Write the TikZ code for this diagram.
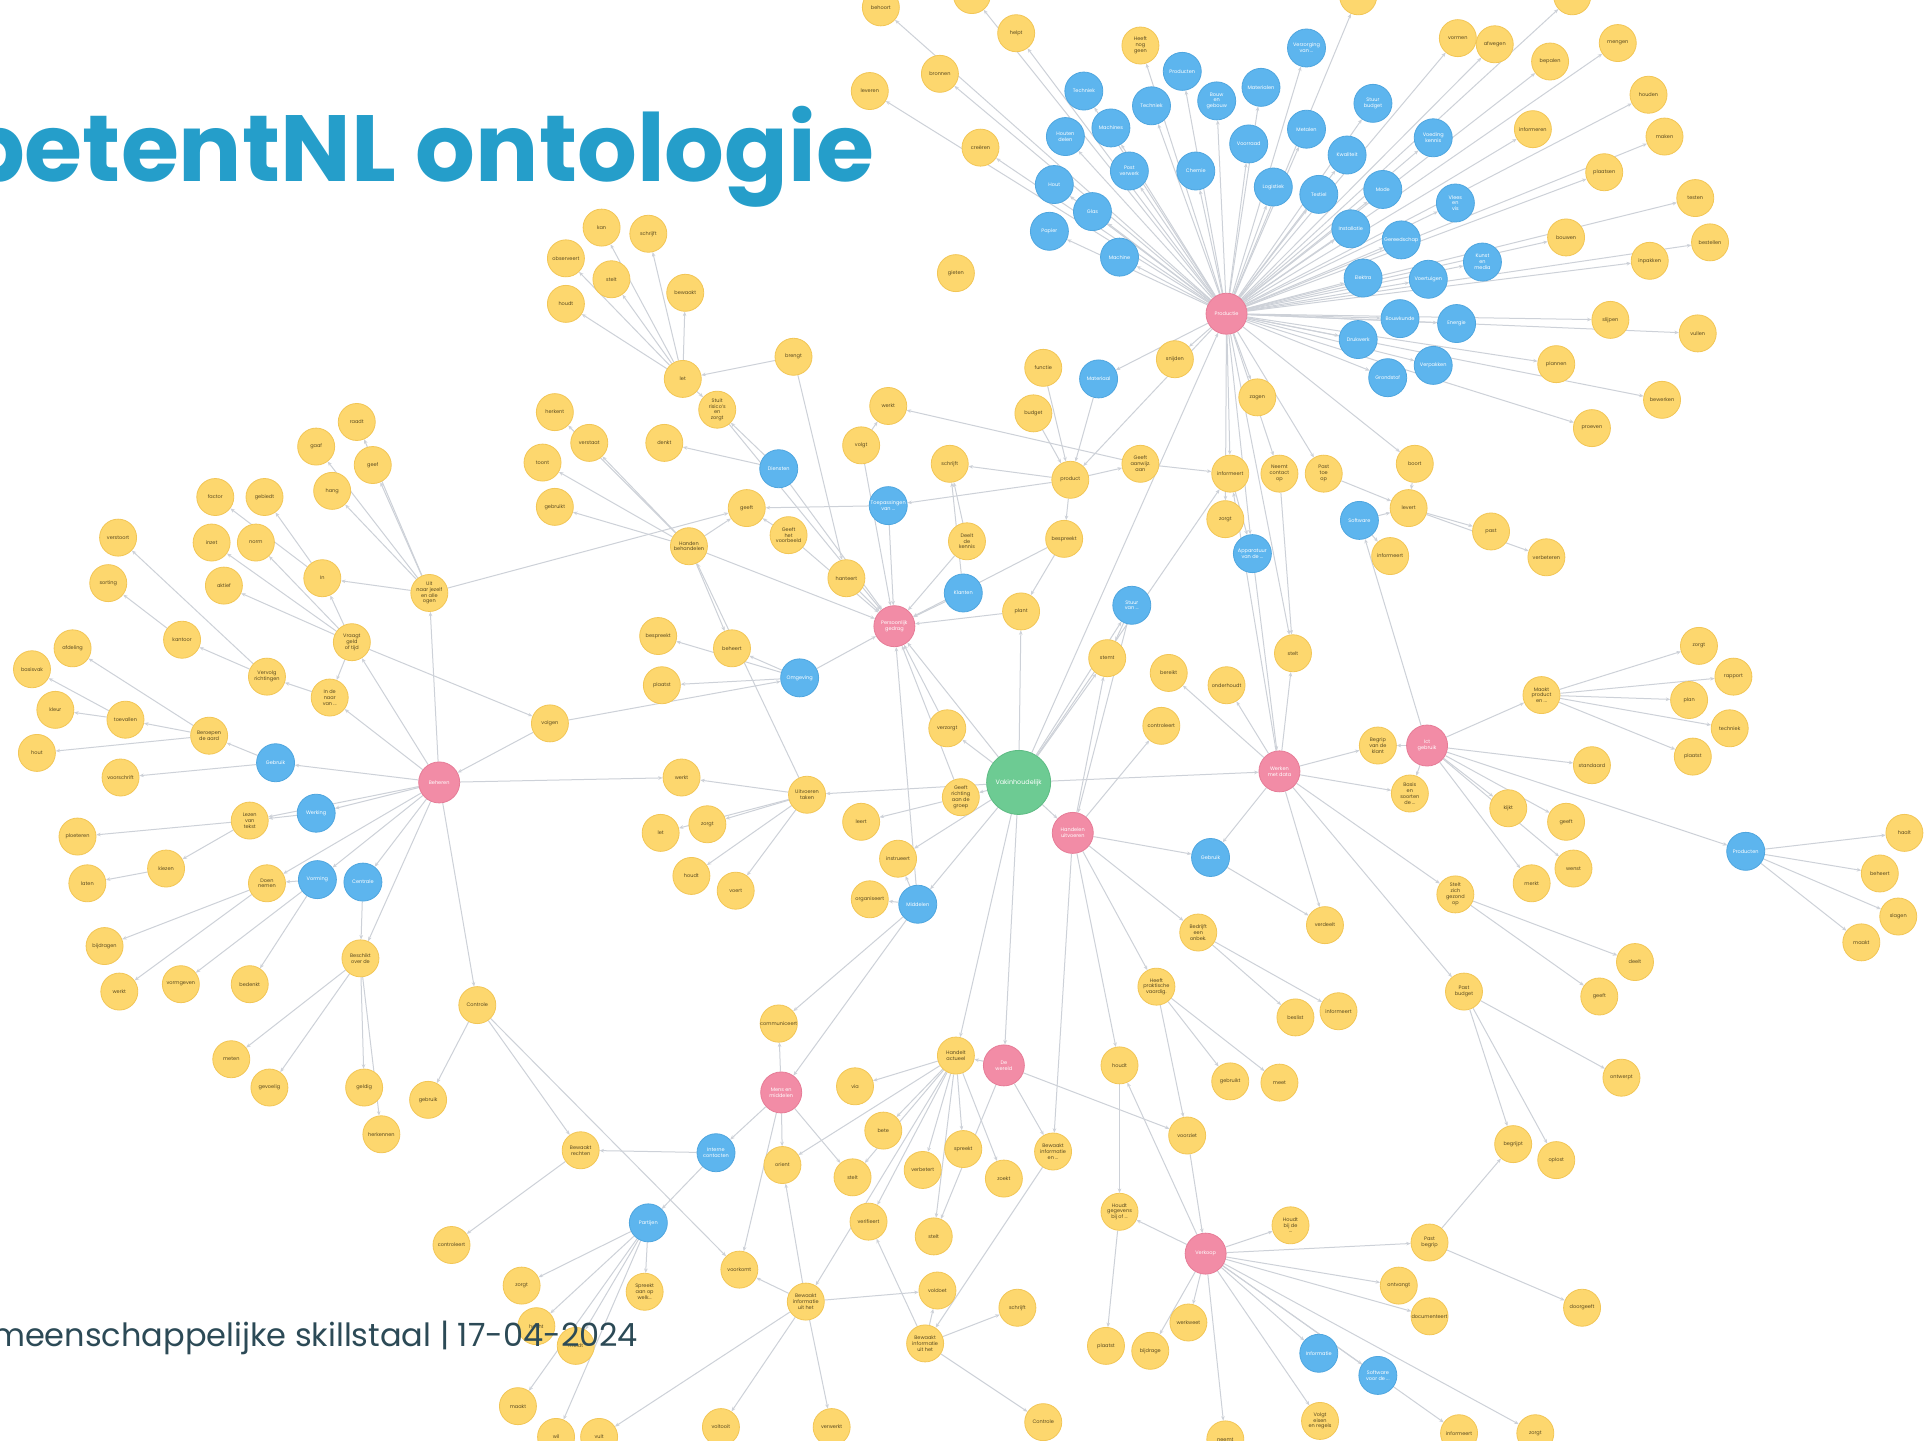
\documentclass[tikz,border=0pt]{standalone}
\usepackage{fontspec}
\setmainfont{Poppins}
\usetikzlibrary{arrows.meta,backgrounds}
\definecolor{ylw}{HTML}{FDD76E}
\definecolor{ylwd}{HTML}{F2C656}
\definecolor{blu}{HTML}{5DB5EE}
\definecolor{blud}{HTML}{4FA6DF}
\definecolor{pnk}{HTML}{F28CA6}
\definecolor{pnkd}{HTML}{E67C97}
\definecolor{grn}{HTML}{6DCB93}
\definecolor{grnd}{HTML}{5DBB83}
\definecolor{edg}{HTML}{CDD1D8}
\definecolor{txtd}{HTML}{5A4A20}
\definecolor{ttl}{HTML}{259ECA}
\definecolor{ftr}{HTML}{2C4A56}
\begin{document}
\begin{tikzpicture}[x=0.6151pt,y=-0.6151pt,
  nd/.style={circle,inner sep=0pt,align=center,font=\fontsize{2.5}{2.9}\selectfont},
  yl/.style={nd,fill=ylw,draw=ylwd,line width=0.4pt,minimum size=18.5pt,text=txtd},
  bl/.style={nd,fill=blu,draw=blud,line width=0.4pt,minimum size=19pt,text=white},
  pk/.style={nd,fill=pnk,draw=pnkd,line width=0.4pt,minimum size=20.5pt,text=white},
  gr/.style={nd,fill=grn,draw=grnd,line width=0.4pt,minimum size=32pt,text=white,font=\fontsize{3.2}{3.6}\selectfont},
  ed/.style={draw=edg,line width=0.5pt,-{Stealth[length=2.2pt,width=1.8pt]}},
  title/.style={font=\fontsize{47}{50}\selectfont\bfseries,text=ttl,inner sep=0pt,anchor=base east},
  footer/.style={font=\fontsize{16}{18}\selectfont,text=ftr,inner sep=0pt,anchor=base east}]
\useasboundingbox (0,0) rectangle (1568,1171);

% ---------- hubs ----------
\node[gr] (g0) at (828,636) {Vakinhoudelijk};
\node[pk] (p1) at (997,255) {Productie};
\node[pk] (p2) at (727,509) {Persoonlijk\\gedrag};
\node[pk] (p3) at (357,636) {Beheren};
\node[pk] (p4) at (872,677) {Handelen\\uitvoeren};
\node[pk] (p5) at (1040,627) {Werken\\met data};
\node[pk] (p6) at (1160,606) {Ict\\gebruik};
\node[pk] (p7) at (635,888) {Mens en\\middelen};
\node[pk] (p8) at (816,866) {De\\wereld};
\node[pk] (p9) at (980,1019) {Verkoop};

% ---------- blue nodes ----------
\foreach \n/\x/\y/\t in {
 tb1/881/74/Techniek, tb2/903/104/Machines, tb3/866/111/{Houten\\delen}, tb4/936/86/Techniek,
 tb5/961/58/Producten, tb6/989/82/{Bouw\\en\\gebouw}, tb7/1025/71/Materialen, tb8/1062/39/{Verzorging\\van ...},
 tb9/1062/105/Metalen, tb10/1116/84/{Stuur\\budget}, tb11/1165/112/{Voeding\\kennis}, tb12/1095/126/Kwaliteit,
 tb13/1015/117/Voorraad, tb14/918/139/{Post\\verwerk}, tb15/972/139/Chemie, tb16/1035/152/Logistiek,
 tb17/1124/154/Mode, tb18/1183/165/{Vlees\\en\\vis}, tb19/1072/158/Textiel, tb20/857/150/Hout,
 tb21/888/172/Glas, tb22/853/188/Papier, tb23/910/209/Machine, tb24/1098/186/Installatie,
 tb25/1139/195/Gereedschap, tb26/1205/213/{Kunst\\en\\media}, tb27/1108/226/Elektra, tb28/1161/227/Voertuigen,
 tb29/1138/259/Bouwkunde, tb30/1184/263/Energie, tb31/1104/276/Drukwerk, tb32/1165/297/Verpakken,
 tb33/1128/307/Grondstof, m1/893/308/Materiaal, m11/1105/423/Software, m16/1018/450/{Apparatuur\\van de ...},
 m18/920/492/{Stuur\\van ...}, m26/783/482/Klanten, m31/722/411/{Toepassingen\\van ...}, m35/633/381/Diensten,
 m37/746/735/Middelen, m48/650/551/Omgeving, lb1/224/620/Gebruik, lb2/257/661/Werking,
 lb3/258/715/Vorming, lb4/295/717/Centrale, rb1/1419/692/Producten, rb2/984/697/Gebruik,
 bbl1/582/937/{Interne\\contacten}, bbl2/527/994/Partijen, bbl3/1072/1100/Informatie, bbl4/1120/1118/{Software\\voor de ...}}
 \node[bl] (\n) at (\x,\y) {\t};

% ---------- yellow nodes ----------
\foreach \n/\x/\y/\t in {
 ty1/716/6/behoort, ty2/790/-4/meten, ty3/826/27/helpt, ty4/764/60/bronnen, ty5/707/74/leveren,
 ty6/797/120/creëren, ty7/927/37/{Heeft\\nog\\geen}, ty8/1104/-3/sorteren, ty29/1278/-3/lassen,
 ty9/1185/31/vormen, ty10/1215/36/afwegen, ty11/1260/50/bepalen, ty12/1315/35/mengen,
 ty13/1340/77/houden, ty14/1246/105/informeren, ty15/1353/111/maken, ty16/1304/140/plaatsen,
 ty17/1378/161/testen, ty18/1273/193/bouwen, ty19/1390/197/bestellen, ty20/1341/212/inpakken,
 ty21/1309/260/slijpen, ty22/1380/271/vullen, ty23/1265/296/plannen, ty24/1351/325/bewerken,
 ty25/1294/348/proeven, ty26/777/222/gieten, ty27/955/292/snijden, ty28/1022/323/zagen,
 m2/848/299/functie, m3/840/336/budget, m4/870/390/product, m5/927/377/{Geeft\\aanwijz.\\aan},
 m6/1000/385/informeert, m7/1040/385/{Neemt\\contact\\op}, m8/1076/385/{Past\\toe\\op},
 m9/1150/377/boort, m10/1145/413/levert, m12/1130/452/informeert, m13/1212/432/past,
 m14/1257/453/verbeteren, m15/996/422/zorgt, m17/865/438/bespreekt, m19/900/535/stemt,
 m20/950/547/bereikt, m21/997/557/onderhoudt, m22/1051/531/stelt, m23/944/590/controleert,
 m24/830/497/plant, m25/786/440/{Deelt\\de\\kennis}, m27/772/377/schrijft, m28/700/362/volgt,
 m29/722/330/werkt, m30/645/290/brengt, m32/688/470/hanteert, m33/641/435/{Geeft\\het\\voorbeeld},
 m34/607/413/geeft, m36/770/592/verzorgt, m38/781/648/{Geeft\\richting\\aan de\\groep},
 m39/730/698/instrueert, m40/700/668/leert, m41/707/731/organiseert, m42/656/646/{Uitvoeren\\taken},
 m43/554/632/werkt, m44/537/677/let, m45/575/670/zorgt, m46/562/712/houdt, m47/598/724/voert,
 m49/595/527/beheert, m50/535/517/bespreekt, m51/538/557/plaatst, m52/560/444/{Handen\\behandelen},
 m53/583/333/{Stuit\\risico's\\en\\zorgt}, m54/555/308/let, m55/540/360/denkt, m56/447/588/volgen,
 tl1/489/185/kan, tl2/527/190/schrijft, tl3/460/210/observeert, tl4/497/227/stelt,
 tl5/557/238/bewaakt, tl6/460/247/houdt, tl7/451/335/herkent, tl8/479/360/verstaat,
 tl9/441/376/toont, tl10/451/412/gebruikt,
 l1/349/482/{Uit\\naar jezelf\\en alle\\ogen}, l2/262/470/In, l3/286/522/{Vraagt\\geld\\of tijd}, l4/268/567/{In de\\naar\\van ...},
 l5/217/550/{Vervolg\\richtingen}, l6/170/598/{Beroepen\\de aard}, l7/148/520/kantoor, l8/102/585/toevallen,
 l9/45/577/kleur, l10/26/544/basisvak, l11/59/527/afdeling, l12/30/612/hout, l13/98/632/voorschrift,
 l14/63/680/ploeteren, l15/71/718/laten, l16/135/706/kiezen, l17/203/667/{Lezen\\van\\tekst},
 l18/217/718/{Doen\\nemen}, l19/203/800/bedenkt, l20/147/800/vormgeven, l21/97/806/werkt,
 l22/85/769/bijdragen, l23/188/861/meten, l24/219/884/gevoelig, l25/296/884/geldig, l26/310/922/herkennen,
 l27/348/894/gebruik, l28/293/779/{Beschikt\\over de},
 l29/388/817/Controle, l30/270/399/hang, l31/290/343/raadt, l32/303/378/geef, l33/257/363/gaaf,
 l34/215/404/gebiedt, l35/175/404/factor, l36/172/441/inzet, l37/208/441/norm, l38/182/476/aktief,
 l39/96/437/verstoort, l40/88/474/sorting,
 r1/1120/606/{Begrip\\van de\\klant}, r2/1146/645/{Basis\\en\\soorten\\de ...}, r3/1226/657/kijkt,
 r4/1273/668/geeft, r5/1279/706/wenst, r6/1245/718/merkt, r7/1183/727/{Stelt\\zich\\gezond\\op},
 r8/1294/622/standaard, r9/1253/565/{Maakt\\product\\en ...}, r10/1381/525/zorgt, r11/1409/550/rapport,
 r12/1373/569/plan, r13/1406/592/techniek, r14/1376/615/plaatst, r15/1548/677/haalt, r16/1528/710/beheert,
 r17/1543/745/slagen, r18/1513/766/maakt, r19/1329/782/deelt, r20/1300/810/geeft, r21/1190/806/{Past\\budget},
 r22/1318/876/ontwerpt, r23/1077/752/verdeelt, r24/974/758/{Bedrijft\\een\\onbek.}, r25/1053/827/beslist,
 r26/1088/822/informeert, r27/940/802/{Heeft\\praktische\\vaardig.}, r28/1000/879/gebruikt, r29/1040/880/meet,
 r30/910/866/houdt, r31/965/923/voorziet, r32/1230/930/begrijpt, r33/1265/943/oplost,
 bt1/633/832/communiceert, bt2/777/858/{Handelt\\actueel}, bt3/695/883/via, bt4/718/919/bete,
 bt5/693/957/stelt, bt6/750/951/verbetert, bt7/783/934/spreekt, bt8/816/958/zoekt, bt9/856/936/{Bewaakt\\informatie\\en ...},
 bt10/706/993/verifieert, bt11/759/1005/stelt, bt12/636/947/orient, bt13/601/1032/voorkomt,
 bt14/655/1058/{Bewaakt\\informatie\\uit het}, bt15/762/1049/voldoet, bt16/752/1092/{Bewaakt\\informatie\\uit het},
 bt17/827/1063/schrijft, bt18/367/1012/controleert, bt19/424/1045/zorgt, bt20/472/935/{Bewaakt\\rechten},
 bt21/436/1078/hecht, bt22/468/1094/meldt, bt23/524/1050/{Spreekt\\aan op\\welk...},
 bt24/421/1143/maakt, bt25/452/1168/wil, bt26/487/1168/vult, bt27/586/1160/voltooit, bt28/676/1160/verwerkt,
 bt29/848/1156/Controle, bt30/899/1094/plaatst, bt31/935/1098/bijdrage, bt32/966/1075/werkweet,
 bt33/910/985/{Houdt\\gegevens\\bij of ...}, bt34/1049/996/{Houdt\\bij de\\...}, bt35/1162/1010/{Past\\begrip},
 bt36/1137/1045/ontvangt, bt37/1162/1070/documenteert, bt38/1286/1063/doorgeeft, bt39/996/1170/neemt,
 bt40/1073/1155/{Volgt\\eisen\\en regels}, bt41/1186/1165/informeert, bt42/1248/1165/zorgt}
 \node[yl] (\n) at (\x,\y) {\t};

% ---------- connectors ----------
\begin{pgfonlayer}{background}
\fill[white] (0,0) rectangle (1568,1171);
\foreach \a/\b in {
 p1/tb1,p1/tb2,p1/tb3,p1/tb4,p1/tb5,p1/tb6,p1/tb7,p1/tb8,p1/tb9,p1/tb10,p1/tb11,p1/tb12,p1/tb13,
 p1/tb14,p1/tb15,p1/tb16,p1/tb17,p1/tb18,p1/tb19,p1/tb20,p1/tb21,p1/tb22,p1/tb23,p1/tb24,p1/tb25,
 p1/tb26,p1/tb27,p1/tb28,p1/tb29,p1/tb30,p1/tb31,p1/tb32,p1/tb33,
 p1/ty1,p1/ty2,p1/ty3,p1/ty4,p1/ty5,p1/ty6,p1/ty7,p1/ty8,p1/ty29,p1/ty9,p1/ty10,p1/ty11,p1/ty12,
 p1/ty13,p1/ty14,p1/ty15,p1/ty16,p1/ty17,p1/ty18,p1/ty19,p1/ty20,p1/ty21,p1/ty22,p1/ty23,p1/ty24,
 p1/ty25,p1/ty27,p1/ty28,p1/m1,p1/m6,p1/m7,p1/m8,p1/m15,p1/m16,p1/m22,p1/m4,p1/m9,
 g0/p1,g0/p2,g0/p4,g0/p5,g0/p8,g0/m42,g0/m38,g0/m36,g0/m39,g0/m24,g0/m37,g0/m6,g0/m19,g0/m18,g0/bt2,
 m1/m4,m2/m4,m3/m4,m4/m5,m4/m27,m4/m17,m4/m31,m5/m6,m5/m29,m6/m16,m7/m22,m8/m10,m9/m10,
 m11/m12,m11/m10,p6/m11,m10/m13,m10/m14,m16/p5,m17/p2,m17/m24,m18/p4,m18/m19,
 p5/m20,p5/m21,p5/m22,p4/m23,m24/p2,m25/p2,m25/m27,m26/p2,m26/m27,m28/m29,m28/p2,m30/m32,
 m31/p2,m31/m34,m32/p2,m33/p2,m33/m34,m35/m53,m35/m55,m35/p2,m36/p2,m37/p2,m37/p7,m37/m41,
 m37/m39,m37/bt1,m38/p2,m38/m40,m42/m43,m42/m44,m42/m45,m42/m46,m42/m47,m42/m52,p3/m43,
 m48/m49,m48/m50,m48/m51,m48/p2,m52/tl7,m52/tl8,m52/tl9,m52/tl10,m52/m49,m52/p2,m52/m34,
 m54/tl1,m54/tl2,m54/tl3,m54/tl4,m54/tl5,m54/tl6,m54/m53,m53/p2,m30/m54,m56/m48,l3/m56,m56/p3,
 p3/lb1,p3/lb2,p3/lb3,p3/lb4,p3/l1,p3/l4,p3/l3,p3/l28,p3/l29,p3/l18,p3/l17,
 l1/l2,l1/l30,l1/l31,l1/l32,l1/l33,l1/m34,l2/l34,l2/l35,l3/l36,l3/l37,l3/l38,l3/l2,l3/l4,
 l4/l5,l5/l7,l5/l39,l7/l40,l6/l8,l6/l12,l6/l11,l8/l9,l8/l10,lb1/l6,lb1/l13,
 lb2/l17,l17/l14,l17/l16,l16/l15,lb3/l18,lb3/l19,lb3/l20,l18/l21,l18/l22,lb4/l28,
 l28/l25,l28/l26,l28/l23,l28/l24,l29/l27,l29/bt20,l29/bt13,
 p5/r1,p5/r2,p5/rb2,p5/r7,p5/r21,p5/r23,p5/m6,
 p6/r1,p6/r9,p6/r8,p6/r3,p6/r4,p6/r5,p6/r6,p6/rb1,p6/r2,
 r9/r10,r9/r11,r9/r12,r9/r13,r9/r14,rb1/r15,rb1/r16,rb1/r17,rb1/r18,r7/r19,r7/r20,
 r21/r32,r21/r33,r21/r22,p4/rb2,p4/r24,p4/r27,p4/r30,p4/bt9,p4/m19,rb2/r23,r24/r25,r24/r26,
 r27/r28,r27/r29,r27/r31,r30/bt33,r31/p9,
 p8/bt9,p8/bt11,p8/bt2,p8/r31,bt2/bt3,bt2/bt4,bt2/bt5,bt2/bt6,bt2/bt7,bt2/bt8,bt2/bt10,bt2/bt11,
 bt2/bt12,bt2/bt14,p7/bbl1,p7/bt1,p7/bt12,p7/bt13,p7/bt5,bbl1/bt20,bbl1/bbl2,bbl2/bt23,bbl2/bt21,
 bbl2/bt19,bbl2/bt24,bbl2/bt25,bbl2/bt22,bt20/bt18,bt14/bt13,bt14/bt12,bt14/bt28,bt14/bt27,bt14/bt15,
 bt14/bt26,bt16/bt15,bt16/bt17,bt16/bt29,bt16/bt10,bt9/bt16,
 p9/bt33,p9/bt34,p9/bt35,p9/bt36,p9/bt37,p9/bbl3,p9/bbl4,p9/bt31,p9/bt32,p9/bt39,p9/bt40,p9/r30,
 p9/bt41,p9/bt42,bt33/bt30,bt35/bt38,bt35/r32}
 \draw[ed] (\a) -- (\b);
\end{pgfonlayer}

% ---------- slide text ----------
\node[title] (ttlnode) at (711,147.7) {CompetentNL ontologie};
\node[footer] (ftrnode) at (519,1094.5) {Gemeenschappelijke skillstaal | 17-04-2024};
\end{tikzpicture}
\end{document}
